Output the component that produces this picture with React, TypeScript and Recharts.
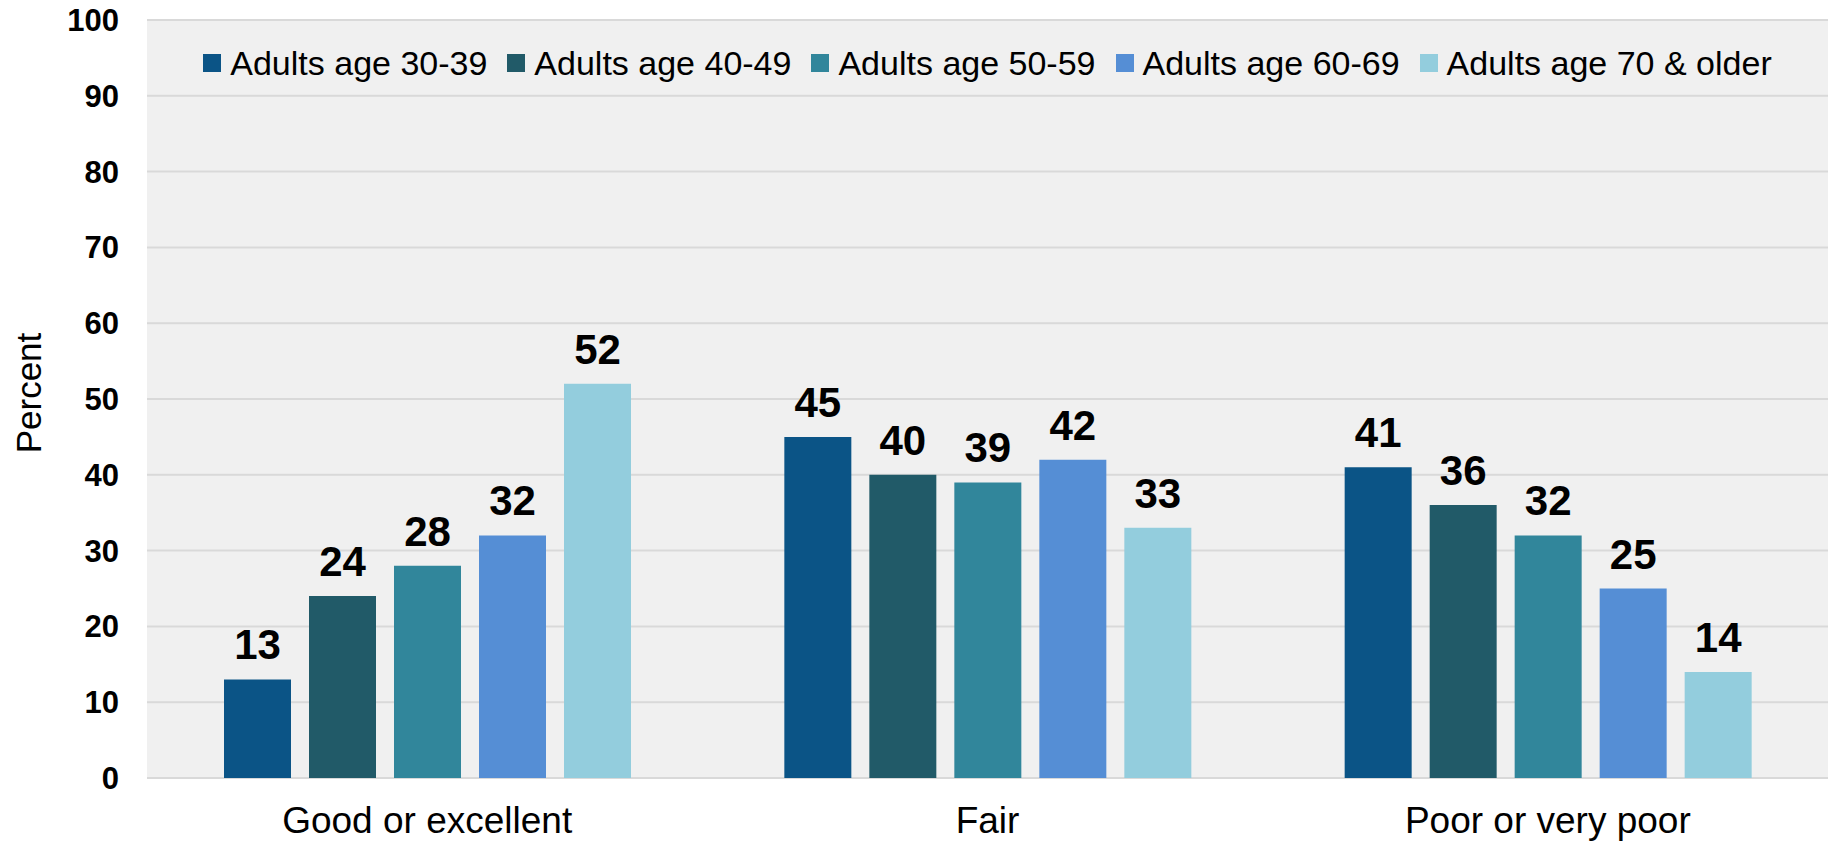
import React from "react";
import {
  BarChart,
  Bar,
  XAxis,
  YAxis,
  CartesianGrid,
  Legend,
  LabelList,
  Label,
} from "recharts";

const FONT = '"Liberation Sans", Arial, sans-serif';

const categories = ["Good or excellent", "Fair", "Poor or very poor"];
const age30to39 = [13, 45, 41];
const age40to49 = [24, 40, 36];
const age50to59 = [28, 39, 32];
const age60to69 = [32, 42, 25];
const age70plus = [52, 33, 14];
const yTicks = [0, 10, 20, 30, 40, 50, 60, 70, 80, 90, 100];

const series = [
  { key: "a30", name: "Adults age 30-39", values: age30to39, color: "#0b5486" },
  { key: "a40", name: "Adults age 40-49", values: age40to49, color: "#215a68" },
  { key: "a50", name: "Adults age 50-59", values: age50to59, color: "#31869b" },
  { key: "a60", name: "Adults age 60-69", values: age60to69, color: "#558ed5" },
  { key: "a70", name: "Adults age 70 & older", values: age70plus, color: "#93cddd" },
];

const data = categories.map((category, i) => {
  const row: Record<string, string | number> = { category };
  series.forEach((s) => {
    row[s.key] = s.values[i];
  });
  return row;
});

// eslint-disable-next-line @typescript-eslint/no-explicit-any
function LegendRow({ payload }: any) {
  return (
    <div
      style={{
        display: "flex",
        justifyContent: "center",
        alignItems: "center",
        fontFamily: FONT,
        fontSize: 34,
        lineHeight: "36px",
        color: "#000",
      }}
    >
      {/* eslint-disable-next-line @typescript-eslint/no-explicit-any */}
      {(payload ?? []).map((entry: any, i: number) => (
        <div
          key={entry.value}
          style={{ display: "flex", alignItems: "center", marginLeft: i === 0 ? 0 : 20 }}
        >
          <span
            style={{
              display: "inline-block",
              width: 18,
              height: 18,
              background: entry.color,
              marginRight: 9,
            }}
          />
          <span>{entry.value}</span>
        </div>
      ))}
    </div>
  );
}

export default function App() {
  return (
    <div style={{ position: "absolute", left: 0, top: 0, background: "#fff" }}>
      <BarChart
        width={1828}
        height={842}
        data={data}
        margin={{ top: 20, right: 0, bottom: 0, left: 0 }}
        barCategoryGap={77}
        barGap={18}
      >
        <CartesianGrid vertical={false} stroke="#d9d9d9" strokeWidth={2} fill="#f0f0f0" />
        <XAxis
          dataKey="category"
          height={64}
          axisLine={false}
          tickLine={false}
          tickMargin={23}
          tick={{ fontSize: 37, fill: "#000", fontFamily: FONT }}
        />
        <YAxis
          width={147}
          domain={[0, 100]}
          ticks={yTicks}
          axisLine={false}
          tickLine={false}
          tickMargin={22}
          tick={{ fontSize: 31, fontWeight: 700, fill: "#000", fontFamily: FONT }}
        >
          <Label
            content={({ viewBox }) => {
              // eslint-disable-next-line @typescript-eslint/no-explicit-any
              const vb = viewBox as any;
              const cy = vb.y + vb.height / 2 - 6;
              return (
                <text
                  x={28}
                  y={cy}
                  transform={`rotate(-90, 28, ${cy})`}
                  textAnchor="middle"
                  dominantBaseline="central"
                  fontSize={35}
                  fontFamily={FONT}
                  fill="#000"
                >
                  Percent
                </text>
              );
            }}
          />
        </YAxis>
        <Legend
          verticalAlign="middle"
          align="center"
          layout="horizontal"
          content={<LegendRow />}
          wrapperStyle={{ top: 45, left: 147, width: 1681 }}
        />
        {series.map((s) => (
          <Bar key={s.key} dataKey={s.key} name={s.name} fill={s.color} isAnimationActive={false}>
            <LabelList
              dataKey={s.key}
              position="top"
              offset={20}
              style={{ fontSize: 42, fontWeight: 700, fill: "#000", fontFamily: FONT }}
            />
          </Bar>
        ))}
      </BarChart>
    </div>
  );
}
